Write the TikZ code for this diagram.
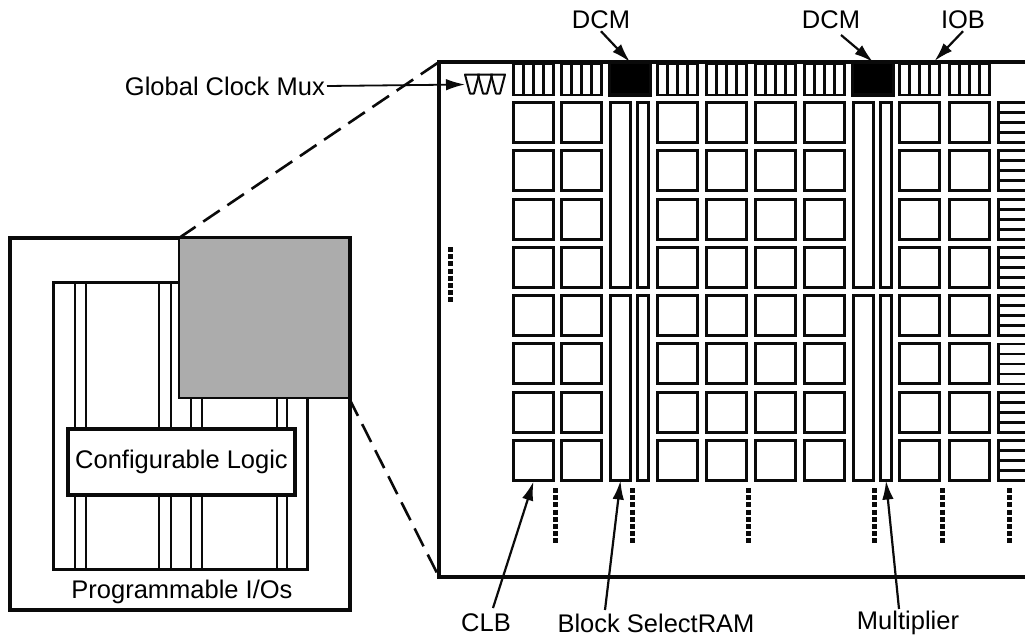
\documentclass[tikz,border=0pt]{standalone}
\usepackage{fontspec}
\setmainfont{Liberation Sans}
\usetikzlibrary{arrows.meta,positioning,calc}
\definecolor{lineColor}{RGB}{10,10,10}
\definecolor{zoomGray}{RGB}{172,172,172}

\begin{document}
\begin{tikzpicture}[
  x=1pt, y=-1pt,
  font=\fontsize{25.5}{30}\selectfont,
  panel/.style={draw=lineColor, fill=white, line width=3.1pt, inner sep=0pt, outer sep=0pt, anchor=north west},
  clb/.style={panel, minimum width=40pt, minimum height=40pt},
  iob/.style={panel, line width=2.8pt, minimum width=40pt, minimum height=31pt},
  dcm/.style={panel, fill=black, minimum width=41pt, minimum height=33pt},
  bram/.style={panel, minimum width=20pt, minimum height=185pt},
  mult/.style={panel, minimum width=11pt, minimum height=185pt},
  tinylabel/.style={text=black, inner sep=2pt},
  arrow/.style={-{Latex[length=19pt,width=11.5pt]}, line width=2.2pt, draw=lineColor},
  zoomline/.style={line width=2.6pt, draw=lineColor, dash pattern=on 20pt off 9.2pt},
  dotrow/.style={line width=5pt, draw=lineColor, dash pattern=on 5pt off 2.2pt}
]
\clip (0,0) rectangle (1025,638);
\fill[white] (0,0) rectangle (1025,638);

% ------------------------------------------------------------------
% Left: whole device
% ------------------------------------------------------------------
\node[panel, line width=3.4pt, minimum width=340pt, minimum height=372pt] (device) at (10,238) {};
\node[panel, line width=3pt, minimum width=254pt, minimum height=287pt] (core) at (53,282) {};
\foreach \xa in {75,86,159,171,191,202,277,287} {
  \draw[lineColor, line width=2.6pt] (\xa,282) -- (\xa,569);
}
\node[panel, draw=lineColor, fill=zoomGray, line width=2pt, minimum width=170pt, minimum height=160pt] (detail) at (179,238) {};
\node[panel, minimum width=227pt, minimum height=66pt, align=center] (logic) at (68,429) {Configurable Logic};
\node[tinylabel] (ios) at (182,592) {Programmable I/Os};

% ------------------------------------------------------------------
% Right: enlarged corner
% ------------------------------------------------------------------
\node[panel, minimum width=640pt, minimum height=515pt] (chip) at (439,62) {};

\draw[zoomline] (detail.north west) -- (chip.north west);
\draw[zoomline] (detail.south east) -- (chip.south west);

% IOB row
\foreach \xa/\nm in {513.5/a,561.5/b,657.5/c,706.5/d,755.5/e,804.5/f,899.5/g,949.5/h} {
  \node[iob] (iob\nm) at (\xa,64) {};
  \foreach \k in {1,2,3} {
    \draw[lineColor, line width=2.6pt] ($(iob\nm.north west)+(10*\k,0)$) -- ($(iob\nm.south west)+(10*\k,0)$);
  }
}
\node[dcm] (dcma) at (609.5,62) {};
\node[dcm] (dcmb) at (852.5,62) {};

% CLB rows
\foreach \ya [count=\r] in {102.5,150.8,199.1,247.4,295.6,343.9,392.2,440.5} {
  \foreach \xa [count=\c] in {513.5,561.5,657.5,706.5,755.5,804.5,899.5,949.5} {
    \node[clb] (clb\r-\c) at (\xa,\ya) {};
  }
  \draw[lineColor, line width=2.8pt] (1030,\ya) -- (998.5,\ya) -- (998.5,\ya+40) -- (1030,\ya+40);
  \foreach \k in {1,2,3} {
    \draw[lineColor, line width=2.8pt] (998.5,\ya+10*\k) -- (1030,\ya+10*\k);
  }
}

% Block RAM and multiplier columns
\foreach \xa/\xb/\nm in {610.5/637.5/a,853.5/880.5/b} {
  \node[bram] (brt\nm) at (\xa,102.5) {};
  \node[bram] (brb\nm) at (\xa,295.5) {};
  \node[mult] (mut\nm) at (\xb,102.5) {};
  \node[mult] (mub\nm) at (\xb,295.5) {};
}

% Clock mux
\node[minimum width=40pt, minimum height=20pt, inner sep=0pt, outer sep=0pt] (mux) at (485,84.5) {};
\foreach \k in {0,1,2} {
  \draw[lineColor, line width=2pt, line join=round] ($(mux.north west)+(13*\k,0)$) -- ++(14,0) -- ++(-5,19) -- ++(-4,0) -- cycle;
}

% Dots
\draw[dotrow] (450,247) -- (450,304);
\foreach \xa in {555,632,748,874,942,1009} {
  \draw[dotrow] (\xa,488) -- (\xa,544);
}

% ------------------------------------------------------------------
% Labels
% ------------------------------------------------------------------
\node[tinylabel, anchor=east] (lblmux) at (327,86) {Global Clock Mux};
\node[tinylabel] (lbldcma) at (601,20) {DCM};
\node[tinylabel] (lbldcmb) at (831,20) {DCM};
\node[tinylabel] (lbliob) at (963,20) {IOB};
\node[tinylabel] (lblclb) at (486,623) {CLB};
\node[tinylabel] (lblbram) at (656,623) {Block SelectRAM};
\node[tinylabel] (lblmult) at (908,623) {Multiplier};

\coordinate (taildcmb) at (841,35);
\coordinate (tailclb) at (493,608);
\coordinate (tailbram) at (605,610);
\coordinate (tailmult) at (899,609);

\draw[arrow, line width=1.8pt] (lblmux.east) -- (mux.west);
\draw[arrow] (lbldcma.south) -- (dcma.north);
\draw[arrow] (taildcmb) -- (dcmb.north);
\draw[arrow] (lbliob.south) -- ($(iobg.north east)+(-5,-3)$);
\draw[arrow] (tailclb) -- ($(clb8-1.south)+(0,1)$);
\draw[arrow] (tailbram) -- (brba.south);
\draw[arrow] (tailmult) -- (mubb.south);

\end{tikzpicture}
\end{document}
